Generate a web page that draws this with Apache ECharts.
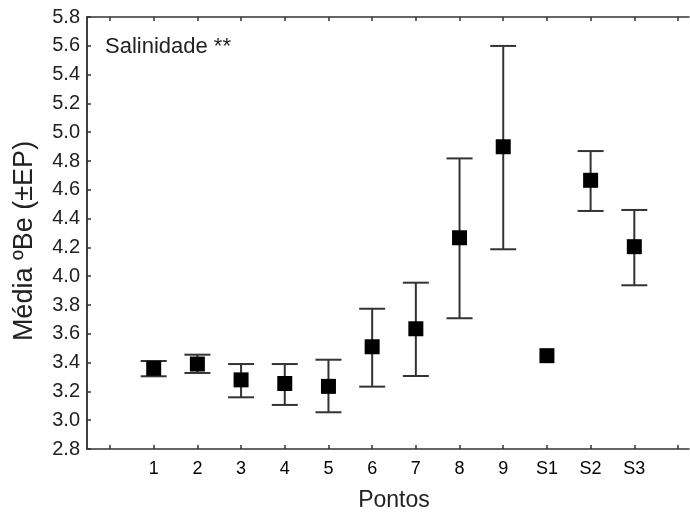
<!DOCTYPE html>
<html>
<head>
<meta charset="utf-8">
<script src="https://cdn.jsdelivr.net/npm/echarts@6/dist/echarts.min.js"></script>
<style>html,body{margin:0;padding:0;background:#fff;}#c{width:690px;height:519px;}</style>
</head>
<body>
<div id="c"></div>
<script>
const categories = ['', '1', '2', '3', '4', '5', '6', '7', '8', '9', 'S1', 'S2', 'S3', ''];
const means = [null, 3.36, 3.39, 3.28, 3.255, 3.235, 3.51, 3.635, 4.267, 4.899, 3.448, 4.666, 4.205, null];
const upper = [null, 3.411, 3.455, 3.39, 3.39, 3.42, 3.774, 3.955, 4.818, 5.599, null, 4.869, 4.46, null];
const lower = [null, 3.305, 3.328, 3.159, 3.106, 3.055, 3.233, 3.307, 3.708, 4.187, null, 4.453, 3.937, null];
const yMin = 2.8, yMax = 5.8, yStep = 0.2;
const titleText = 'Salinidade **';
const yName = 'Média ºBe (±EP)';
const xName = 'Pontos';

const errData = [];
categories.forEach((c, i) => {
  if (upper[i] != null && lower[i] != null) errData.push([i, upper[i], lower[i]]);
});
const pointData = means.map((v, i) => v == null ? null : [i, v]).filter(d => d);

const FONT = 'Liberation Sans, Arial, sans-serif';
const LINE = '#333';

const chart = echarts.init(document.getElementById('c'), null, {renderer: 'canvas'});
chart.setOption({
  animation: false,
  backgroundColor: '#fff',
  title: {
    text: titleText, left: 100, top: 31,
    textStyle: {fontFamily: FONT, fontSize: 22, fontWeight: 'normal', color: '#222'}
  },
  grid: [
    {left: 87, right: 1, top: 17, bottom: 70, containLabel: false},
    {left: 110, right: 12, top: 17, bottom: 70, containLabel: false}
  ],
  xAxis: [
    {gridIndex: 0, type: 'value', min: 0, max: 1, position: 'bottom',
     axisLine: {show: true, lineStyle: {color: LINE, width: 1.5}},
     axisTick: {show: false}, axisLabel: {show: false}, splitLine: {show: false}},
    {gridIndex: 0, type: 'value', min: 0, max: 1, position: 'top',
     axisLine: {show: true, lineStyle: {color: LINE, width: 1.5}},
     axisTick: {show: false}, axisLabel: {show: false}, splitLine: {show: false}},
    {gridIndex: 1, type: 'category', data: categories, boundaryGap: false, position: 'bottom',
     axisLine: {show: false},
     axisTick: {show: true, inside: true, length: 4, lineStyle: {color: LINE, width: 1.5}},
     axisLabel: {show: true, interval: 0, margin: 11, fontFamily: FONT, fontSize: 18, color: '#000'},
     splitLine: {show: false},
     name: xName, nameLocation: 'middle', nameGap: 40,
     nameTextStyle: {fontFamily: FONT, fontSize: 23, color: '#222'}},
    {gridIndex: 1, type: 'category', data: categories, boundaryGap: false, position: 'top',
     axisLine: {show: false},
     axisTick: {show: true, inside: true, length: 4, lineStyle: {color: LINE, width: 1.5}},
     axisLabel: {show: false}, splitLine: {show: false}}
  ],
  yAxis: [
    {gridIndex: 0, type: 'value', min: yMin, max: yMax, interval: yStep, position: 'left',
     axisLine: {show: true, lineStyle: {color: LINE, width: 1.5}},
     axisTick: {show: true, inside: true, length: 4, lineStyle: {color: LINE, width: 1.5}},
     axisLabel: {show: true, margin: 7, fontFamily: FONT, fontSize: 20, color: '#222',
                 formatter: v => v.toFixed(1)},
     splitLine: {show: false},
     name: yName, nameLocation: 'middle', nameGap: 49, nameRotate: 90,
     nameTextStyle: {fontFamily: FONT, fontSize: 27, color: '#222', padding: [0, 16, 0, 0]}},
    {gridIndex: 0, type: 'value', min: yMin, max: yMax, interval: yStep, position: 'right',
     axisLine: {show: true, lineStyle: {color: LINE, width: 1.5}},
     axisTick: {show: false}, axisLabel: {show: false}, splitLine: {show: false}},
    {gridIndex: 1, type: 'value', min: yMin, max: yMax, interval: yStep, show: false,
     splitLine: {show: false}}
  ],
  series: [
    {
      type: 'custom', xAxisIndex: 2, yAxisIndex: 2, z: 2,
      data: errData,
      renderItem: function (params, api) {
        const x = api.value(0);
        const hi = api.coord([x, api.value(1)]);
        const lo = api.coord([x, api.value(2)]);
        const hw = 13;
        const st = {stroke: '#333', lineWidth: 2, fill: null};
        return {
          type: 'group',
          children: [
            {type: 'line', shape: {x1: hi[0], y1: hi[1], x2: lo[0], y2: lo[1]}, style: st},
            {type: 'line', shape: {x1: hi[0] - hw, y1: hi[1], x2: hi[0] + hw, y2: hi[1]}, style: st},
            {type: 'line', shape: {x1: lo[0] - hw, y1: lo[1], x2: lo[0] + hw, y2: lo[1]}, style: st}
          ]
        };
      }
    },
    {
      type: 'scatter', xAxisIndex: 2, yAxisIndex: 2, z: 3,
      symbol: 'rect', symbolSize: 15,
      itemStyle: {color: '#000', opacity: 1},
      data: pointData
    }
  ]
});
</script>
</body>
</html>
